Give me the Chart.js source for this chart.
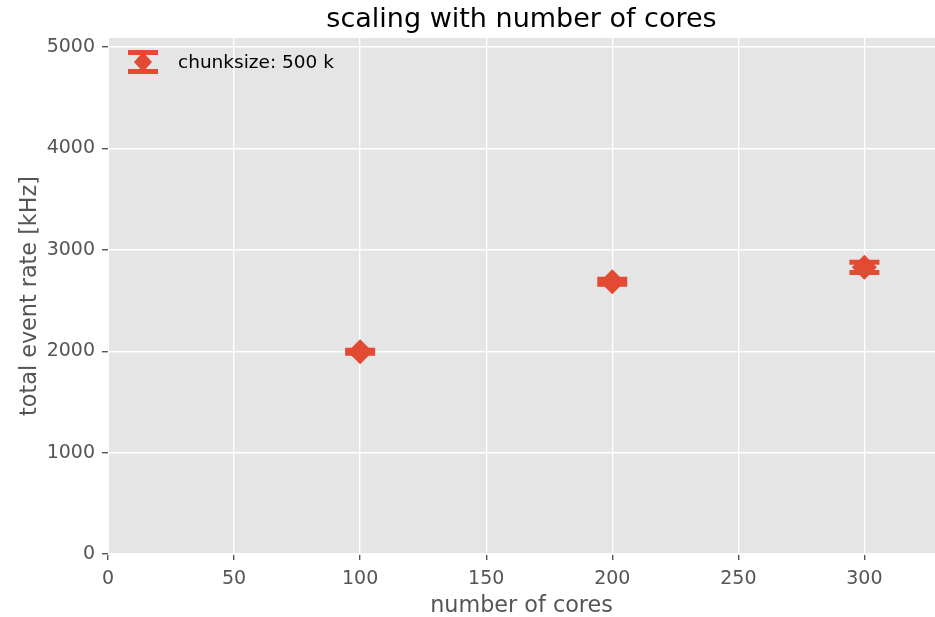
<!DOCTYPE html>
<html>
<head>
<meta charset="utf-8">
<script src="https://cdn.jsdelivr.net/npm/chart.js@4.4.0/dist/chart.umd.min.js"></script>
<style>
  html, body { margin: 0; padding: 0; background: #fff; }
</style>
</head>
<body>
<canvas id="myChart" width="935" height="617"></canvas>
<script>
// measured values
const cores = [100, 200, 300];
const rates = [1995, 2685, 2828];
const rateErrors = [15, 25, 50];
const seriesLabel = 'chunksize: 500 k';
const chartTitle = 'scaling with number of cores';

const xTicks = [0, 50, 100, 150, 200, 250, 300];
const yTicks = [0, 1000, 2000, 3000, 4000, 5000];

const red = '#E24A33';
const fontFamily = '"DejaVu Sans", sans-serif';

// grey panel behind the plot
const plotBackground = {
  id: 'plotBackground',
  beforeDraw(chart) {
    const a = chart.chartArea;
    chart.ctx.save();
    chart.ctx.fillStyle = '#E5E5E5';
    chart.ctx.fillRect(a.left, a.top, a.right - a.left, a.bottom - a.top);
    chart.ctx.restore();
  }
};

// error bars, legend and a title centred over the plot
const errorBars = {
  id: 'errorBars',
  afterDatasetsDraw(chart) {
    const ctx = chart.ctx;
    const xs = chart.scales.x;
    const ys = chart.scales.y;
    ctx.save();
    ctx.strokeStyle = red;
    for (let i = 0; i < cores.length; i++) {
      const x = xs.getPixelForValue(cores[i]);
      const yTop = ys.getPixelForValue(rates[i] + rateErrors[i]);
      const yBot = ys.getPixelForValue(rates[i] - rateErrors[i]);
      ctx.lineWidth = 3;
      ctx.beginPath();
      ctx.moveTo(x, yTop);
      ctx.lineTo(x, yBot);
      ctx.stroke();
      ctx.lineWidth = 5;
      ctx.beginPath();
      ctx.moveTo(x - 15, yTop);
      ctx.lineTo(x + 15, yTop);
      ctx.moveTo(x - 15, yBot);
      ctx.lineTo(x + 15, yBot);
      ctx.stroke();
    }

    // legend
    const area = chart.chartArea;
    const lx = area.left + 35;
    const ly = area.top + 24;
    ctx.lineWidth = 5;
    ctx.beginPath();
    ctx.moveTo(lx - 15, ly - 9.5);
    ctx.lineTo(lx + 15, ly - 9.5);
    ctx.moveTo(lx - 15, ly + 9.5);
    ctx.lineTo(lx + 15, ly + 9.5);
    ctx.stroke();
    ctx.lineWidth = 3;
    ctx.beginPath();
    ctx.moveTo(lx, ly - 9.5);
    ctx.lineTo(lx, ly + 9.5);
    ctx.stroke();
    ctx.fillStyle = red;
    ctx.beginPath();
    ctx.moveTo(lx, ly - 10);
    ctx.lineTo(lx + 9, ly);
    ctx.lineTo(lx, ly + 10);
    ctx.lineTo(lx - 9, ly);
    ctx.closePath();
    ctx.fill();
    ctx.fillStyle = '#000';
    ctx.font = '18.5px ' + fontFamily;
    ctx.textBaseline = 'middle';
    ctx.textAlign = 'left';
    ctx.fillText(seriesLabel, area.left + 70, ly + 1);

    // title
    ctx.font = '27px ' + fontFamily;
    ctx.textAlign = 'center';
    ctx.fillText(chartTitle, (area.left + area.right) / 2, 20);
    ctx.restore();
  }
};

const ctx = document.getElementById('myChart');
new Chart(ctx, {
  type: 'scatter',
  data: {
    datasets: [{
      label: seriesLabel,
      data: cores.map((c, i) => ({ x: c, y: rates[i] })),
      pointStyle: 'rectRot',
      pointRadius: 12.5,
      pointHoverRadius: 12.5,
      backgroundColor: red,
      borderColor: red,
      borderWidth: 0
    }]
  },
  options: {
    responsive: false,
    animation: false,
    events: [],
    layout: { autoPadding: false, padding: { top: 38, right: 0, bottom: 0, left: 0 } },
    plugins: {
      legend: { display: false },
      tooltip: { enabled: false },
      title: { display: false }
    },
    scales: {
      x: {
        type: 'linear',
        min: 0,
        max: 328,
        afterBuildTicks: axis => { axis.ticks = xTicks.map(v => ({ value: v })); },
        afterFit: axis => {
          axis.height = 617 - 554;
          axis.paddingLeft = 0;
          axis.paddingRight = 0;
        },
        ticks: {
          color: '#555555',
          font: { family: fontFamily, size: 19 },
          padding: 8,
          maxRotation: 0,
          callback: v => String(v)
        },
        grid: {
          color: '#ffffff',
          lineWidth: 1.4,
          tickColor: '#555555',
          tickWidth: 1.4,
          tickLength: 6
        },
        border: { color: '#ffffff', width: 1 },
        title: {
          display: true,
          text: 'number of cores',
          color: '#555555',
          font: { family: fontFamily, size: 22.3 },
          padding: { top: 0, bottom: -3 }
        }
      },
      y: {
        type: 'linear',
        min: 0,
        max: 5090,
        afterBuildTicks: axis => { axis.ticks = yTicks.map(v => ({ value: v })); },
        afterFit: axis => {
          axis.width = 108;
          axis.paddingTop = 0;
          axis.paddingBottom = 0;
        },
        ticks: {
          color: '#555555',
          font: { family: fontFamily, size: 19 },
          padding: 7,
          callback: v => String(v)
        },
        grid: {
          color: '#ffffff',
          lineWidth: 1.4,
          tickColor: '#555555',
          tickWidth: 1.4,
          tickLength: 6
        },
        border: { color: '#ffffff', width: 1 },
        title: {
          display: true,
          text: 'total event rate [kHz]',
          color: '#555555',
          font: { family: fontFamily, size: 22.3 },
          padding: { top: 17, bottom: 0 }
        }
      }
    }
  },
  plugins: [plotBackground, errorBars]
});
</script>
</body>
</html>
